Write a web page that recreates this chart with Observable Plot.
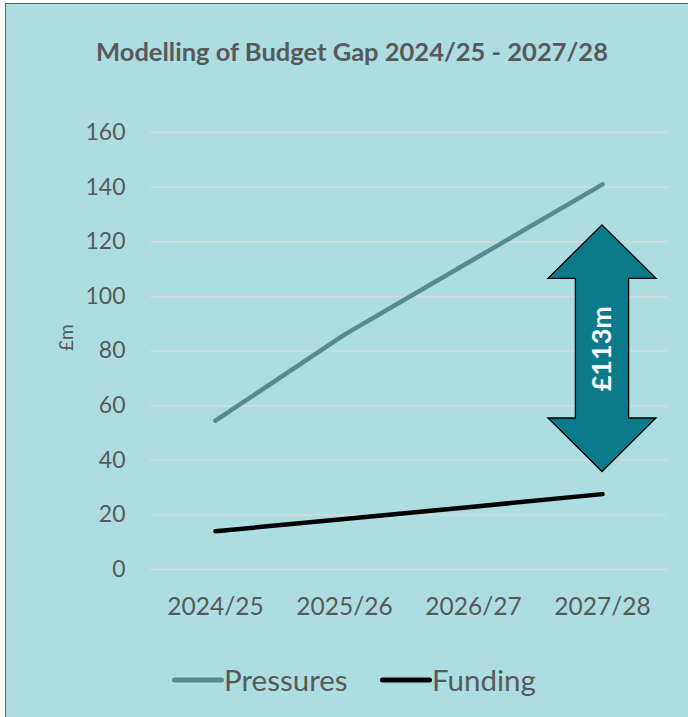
<!DOCTYPE html>
<html>
<head>
<meta charset="utf-8">
<script src="https://cdn.jsdelivr.net/npm/d3@7"></script>
<script src="https://cdn.jsdelivr.net/npm/@observablehq/plot@0.6"></script>
<style>
  html, body { margin: 0; padding: 0; background: #ffffff; width: 688px; height: 717px; overflow: hidden; }
  #frame { position: absolute; left: 5px; top: 3px; width: 690px; height: 720px; background: #acdee1;
           border-left: 1.5px solid #4d6f70; border-top: 1.5px solid #4d6f70; }
  #title { position: absolute; left: 0; width: 704px; top: 36px; text-align: center;
           font-family: Lato, sans-serif; font-weight: bold; font-size: 25.5px; color: #595959; }
  #chart { position: absolute; left: 0; top: 100px; }
  #legend { position: absolute; left: 0; top: 660px; width: 688px; height: 40px;
            font-family: Lato, sans-serif; font-size: 29.5px; color: #595959; }
  .item { position: absolute; top: 0; display: flex; align-items: center; }
</style>
</head>
<body>
<div id="frame"></div>
<div id="title">Modelling of Budget Gap 2024/25 - 2027/28</div>
<div id="chart"></div>
<div id="legend"></div>
<script>
// ---- data ----
const years = ["2024/25", "2025/26", "2026/27", "2027/28"];
const pressures = [54.5, 86, 113.5, 141];
const funding = [14, 18.5, 23, 27.6];
const yTicks = [0, 20, 40, 60, 80, 100, 120, 140, 160];
const gapLabel = "£113m";
const gapYear = "2027/28";
const gapArrowTop = 126;
const gapArrowBottom = 35.7;
const seriesNames = ["Pressures", "Funding"];
const seriesColors = ["#568c8c", "#000000"];

const rows = [];
years.forEach((y, i) => {
  rows.push({year: y, value: pressures[i], series: seriesNames[0]});
  rows.push({year: y, value: funding[i], series: seriesNames[1]});
});

const textColor = "#595959";

const plot = Plot.plot({
  width: 688,
  height: 540,
  marginLeft: 150,
  marginRight: 21,
  marginTop: 32,
  marginBottom: 71,
  style: {background: "transparent", fontFamily: "Lato, sans-serif", color: textColor, overflow: "visible"},
  x: {type: "point", domain: years, padding: 0.5, label: null},
  y: {domain: [0, 160], ticks: yTicks, label: null},
  color: {domain: seriesNames, range: seriesColors},
  marks: [
    Plot.ruleY(yTicks, {stroke: "#d9d9d9", strokeWidth: 1.5}),
    Plot.axisY({ticks: yTicks, tickSize: 0, tickPadding: 25, fontSize: 23, fill: textColor, label: null}),
    Plot.axisX({tickSize: 0, tickPadding: 28, fontSize: 24.5, fill: textColor, label: null}),
    Plot.text(["£m"], {frameAnchor: "left", dx: -84, rotate: -90, fontSize: 19, fill: textColor}),
    Plot.line(rows, {x: "year", y: "value", z: "series", stroke: "series", strokeWidth: 4.5, strokeLinecap: "round", strokeLinejoin: "round"}),
    Plot.text([gapLabel], {x: () => gapYear, y: () => (gapArrowTop + gapArrowBottom) / 2, text: d => d, rotate: -90,
      fill: "white", fontWeight: "bold", fontSize: 27})
  ]
});
document.getElementById("chart").appendChild(plot);

// ---- double-headed arrow drawn with the plot's own scales ----
const sx = plot.scale("x"), sy = plot.scale("y");
const cx = sx.apply(gapYear);
const yTop = sy.apply(gapArrowTop), yBot = sy.apply(gapArrowBottom);
const headH = 53.5, headW = 54, shaftW = 26.6;
const d = [
  [cx, yTop], [cx + headW, yTop + headH], [cx + shaftW, yTop + headH],
  [cx + shaftW, yBot - headH], [cx + headW, yBot - headH], [cx, yBot],
  [cx - headW, yBot - headH], [cx - shaftW, yBot - headH], [cx - shaftW, yTop + headH],
  [cx - headW, yTop + headH]
].map((p, i) => (i ? "L" : "M") + p[0] + "," + p[1]).join("") + "Z";
const svg = plot.tagName.toLowerCase() === "svg" ? plot : plot.querySelector("svg");
const path = document.createElementNS("http://www.w3.org/2000/svg", "path");
path.setAttribute("d", d);
path.setAttribute("fill", "#0b7a8b");
path.setAttribute("stroke", "#000");
path.setAttribute("stroke-width", "1.3");
const textGroups = svg.querySelectorAll('g[aria-label="text"]');
const labelGroup = textGroups[textGroups.length - 1];
svg.insertBefore(path, labelGroup);

// ---- legend ----
const legend = document.getElementById("legend");
const legendPos = [172, 380];
seriesNames.forEach((name, i) => {
  const item = document.createElement("div");
  item.className = "item";
  item.style.left = legendPos[i] + "px";
  item.innerHTML = `<svg width="52" height="40"><line x1="2.5" x2="49.5" y1="20" y2="20" stroke="${seriesColors[i]}" stroke-width="5" stroke-linecap="round"/></svg><span style="line-height:40px">${name}</span>`;
  legend.appendChild(item);
});
</script>
</body>
</html>
